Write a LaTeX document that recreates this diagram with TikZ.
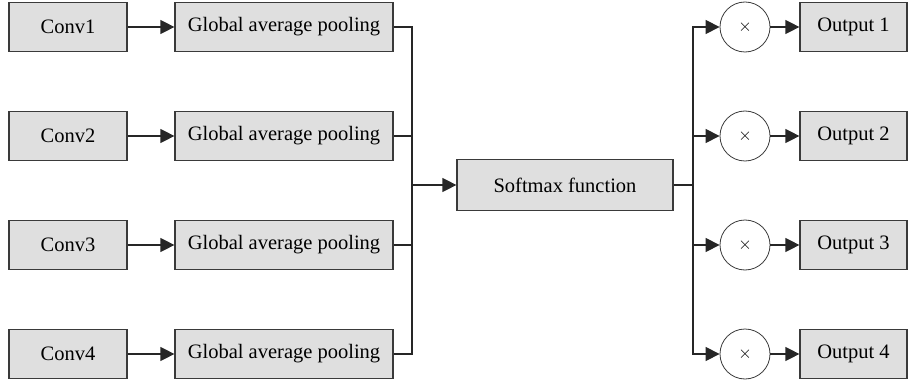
\documentclass[tikz,border=0pt]{standalone}
\usepackage{fontspec}
\setmainfont{Liberation Serif}
\usetikzlibrary{arrows.meta}

\definecolor{boxfill}{HTML}{DFDFDF}
\definecolor{boxline}{HTML}{3A3A3A}

\tikzset{
    blk/.style={draw=boxline, line width=1.2pt, fill=boxfill, minimum height=49pt,
                inner sep=0pt, font=\fontsize{20.5}{24}\selectfont},
    mul/.style={draw=boxline, line width=0.8pt, circle, minimum size=50pt, inner sep=0pt},
    wire/.style={line width=1.2pt, draw=black!85},
    arr/.style={wire, -{Triangle[length=14pt, width=14pt]}}
}

\begin{document}
\begin{tikzpicture}[x=1pt, y=-1pt]
    \useasboundingbox (0,0) rectangle (910,385);

    % four branches: conv -> pooling
    \foreach \i/\y in {1/27, 2/136, 3/245, 4/354}{
        \node[blk, minimum width=118pt] (conv\i) at (68,\y) {Conv\i};
        \node[blk, minimum width=218pt] (gap\i) at (284,\y) {Global average pooling};
        \draw[arr] (conv\i) -- (gap\i);
    }

    \coordinate (jl) at (412,185);
    \coordinate (jr) at (693,185);

    \node[blk, minimum width=216pt, minimum height=51pt] (soft) at (565,185) {Softmax function};

    % merge into softmax
    \foreach \i in {1,...,4}
        \draw[wire] (gap\i.east) -| (jl);
    \draw[arr] (jl) -- (soft);
    \draw[wire] (soft) -- (jr);

    % weighting and outputs
    \foreach \i/\y in {1/27, 2/136, 3/245, 4/354}{
        \node[mul] (mul\i) at (745,\y) {\fontsize{18}{20}\selectfont$\times$};
        \node[blk, minimum width=107pt] (out\i) at (853.5,\y) {Output \i};
        \draw[arr] (jr) |- (mul\i);
        \draw[arr] (mul\i) -- (out\i);
    }
\end{tikzpicture}
\end{document}
